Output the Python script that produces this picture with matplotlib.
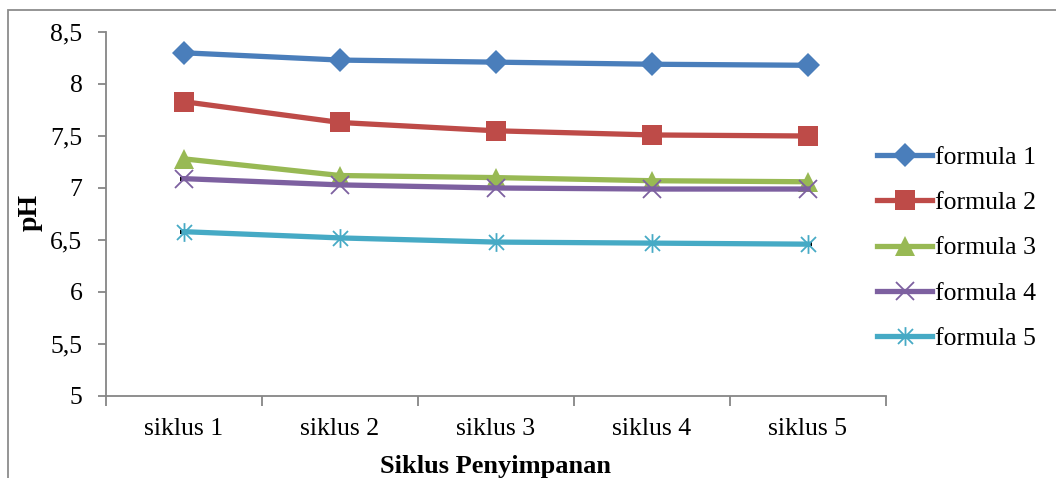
import matplotlib
matplotlib.use("Agg")
import matplotlib.pyplot as plt
from matplotlib.path import Path
from matplotlib.patches import Rectangle
from matplotlib.ticker import FixedLocator, FuncFormatter

# ---- data -------------------------------------------------------------
categories = ["siklus 1", "siklus 2", "siklus 3", "siklus 4", "siklus 5"]
series_names = ["formula 1", "formula 2", "formula 3", "formula 4", "formula 5"]
formula_1 = [8.30, 8.23, 8.21, 8.19, 8.18]
formula_2 = [7.83, 7.63, 7.55, 7.51, 7.50]
formula_3 = [7.28, 7.12, 7.10, 7.07, 7.06]
formula_4 = [7.09, 7.03, 7.00, 6.99, 6.99]
formula_5 = [6.58, 6.52, 6.48, 6.47, 6.46]
sd_3 = [0.01, 0.01, 0.01, 0.01, 0.01]
sd_4 = [0.01, 0.01, 0.01, 0.01, 0.01]
sd_5 = [0.01, 0.01, 0.01, 0.01, 0.01]
y_ticks = [5, 5.5, 6, 6.5, 7, 7.5, 8, 8.5]

plt.rcParams["font.family"] = ["Liberation Serif", "DejaVu Serif"]

colors = ["#4A7EBB", "#BE4B48", "#98B954", "#7D60A0", "#46AAC5"]

# asterisk marker: vertical stroke plus two diagonals
star_path = Path(
    [(0, -1), (0, 1), (-0.8, -0.8), (0.8, 0.8), (-0.8, 0.8), (0.8, -0.8)],
    [Path.MOVETO, Path.LINETO, Path.MOVETO, Path.LINETO, Path.MOVETO, Path.LINETO],
)

marker_styles = [
    dict(marker="D", markersize=12.5, markeredgewidth=0),
    dict(marker="s", markersize=14, markeredgewidth=0),
    dict(marker="^", markersize=14, markeredgewidth=0),
    dict(marker="x", markersize=13, markeredgewidth=1.3),
    dict(marker=star_path, markersize=13.5, markeredgewidth=1.3),
]

values = [formula_1, formula_2, formula_3, formula_4, formula_5]
errors = [None, None, sd_3, sd_4, sd_5]

W, H = 1056, 478
fig = plt.figure(figsize=(W / 100, H / 100), dpi=100)
ax = fig.add_axes([106 / W, 1 - 396 / H, 780 / W, 364 / H])

x = list(range(len(categories)))
handles = []
for vals, err, col, ms, name in zip(values, errors, colors, marker_styles, series_names):
    if err is not None:
        ax.errorbar(x, vals, yerr=err, fmt="none", ecolor="black",
                    elinewidth=1, capsize=3, capthick=1.5, zorder=1)
    (ln,) = ax.plot(x, vals, color=col, linewidth=3.8, markerfacecolor=col,
                    markeredgecolor=col, label=name, zorder=3, **ms)
    handles.append(ln)

ax.set_xlim(-0.5, len(categories) - 0.5)
ax.set_ylim(5, 8.5)

grey = "#868686"
for side in ("top", "right"):
    ax.spines[side].set_visible(False)
for side in ("left", "bottom"):
    ax.spines[side].set_color(grey)
    ax.spines[side].set_linewidth(1.3)

ax.yaxis.set_major_locator(FixedLocator(y_ticks))
ax.yaxis.set_major_formatter(FuncFormatter(lambda v, p: f"{v:g}".replace(".", ",")))
ax.tick_params(axis="y", direction="out", length=6, width=1.3, color=grey,
               labelsize=18.5, pad=11)

# category labels between boundary ticks
ax.set_xticks([i - 0.5 for i in range(len(categories) + 1)])
ax.set_xticklabels([])
ax.set_xticks(x, minor=True)
ax.set_xticklabels(categories, minor=True)
ax.tick_params(axis="x", which="major", direction="out", length=7, width=1.3, color=grey)
ax.tick_params(axis="x", which="minor", length=0, labelsize=18.5, pad=16)

fig.text(30 / W, 1 - 212 / H, "pH", rotation=90, ha="center", va="center",
         fontsize=20, fontweight="bold")
fig.text(496 / W, 1 - 466 / H, "Siklus Penyimpanan", ha="center", va="center",
         fontsize=19, fontweight="bold")

fig.legend(handles=handles, loc="center left", bbox_to_anchor=(877 / W, 1 - 248 / H),
           frameon=False, fontsize=18.5, handlelength=2.15, handletextpad=0.1,
           labelspacing=0.86, borderpad=0, borderaxespad=0)

# outer chart border (extends past the right/bottom edges)
fig.patches.append(Rectangle((8 / W, -0.1), 1.2, 1 - 10 / H + 0.1,
                             transform=fig.transFigure, fill=False,
                             edgecolor="#8C8C8C", linewidth=1.3))

fig.savefig("out.png", dpi=100)
